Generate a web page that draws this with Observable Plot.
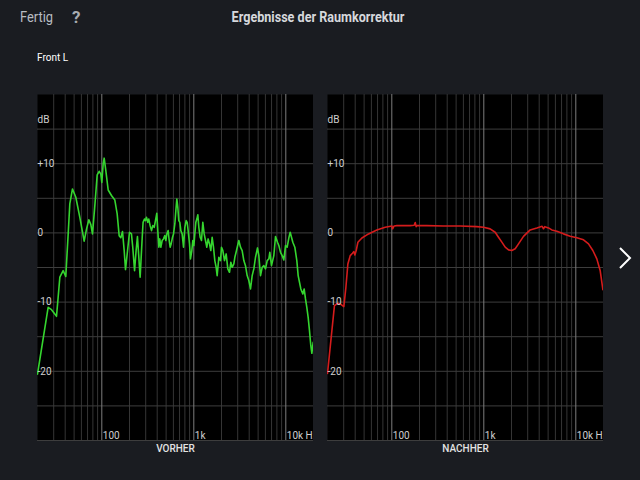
<!DOCTYPE html>
<html>
<head>
<meta charset="utf-8">
<script src="https://cdn.jsdelivr.net/npm/d3@7"></script>
<script src="https://cdn.jsdelivr.net/npm/@observablehq/plot@0.6"></script>
<style>
  html, body { margin: 0; padding: 0; }
  body { width: 640px; height: 480px; background: #1a1c21; position: relative; overflow: hidden; font-family: Roboto, "Noto Sans", sans-serif; }
  .abs { position: absolute; white-space: nowrap; }
  #fertig { left: 20px; top: 9px; font-size: 14px; color: #b9bcc2; transform: scaleX(0.92); transform-origin: left center; }
  #help { left: 72px; top: 7px; font-size: 17px; font-weight: bold; color: #a9acb2; }
  #title { left: 0; width: 640px; top: 9px; text-align: center; font-size: 14px; font-weight: bold; color: #d6d8dc; }
  #title span { display: inline-block; transform: scaleX(0.9); margin-left: -4px; }
  #front { left: 37px; top: 52px; font-size: 10px; color: #ffffff; }
  #left { left: 37px; top: 94px; }
  #right { left: 327px; top: 94px; }
  #next { left: 616px; top: 244px; }
</style>
</head>
<body>
<div class="abs" id="fertig">Fertig</div>
<div class="abs" id="help">?</div>
<div class="abs" id="title"><span>Ergebnisse der Raumkorrektur</span></div>
<div class="abs" id="front">Front L</div>
<div class="abs" id="left"></div>
<div class="abs" id="right"></div>
<svg class="abs" id="next" width="20" height="28"><polyline points="4,4 14,14 4,24" fill="none" stroke="#ffffff" stroke-width="2"/></svg>
<script>
// ---- data ----
const beforeFreq = [20, 26.1, 28.4, 32.2, 35.0, 38.0, 40.6, 43.1, 44.9, 48.0, 52.2, 57.7, 64.3, 68.2, 72.3, 76.0, 79.2, 84.0, 89.1, 93.6, 97.6, 100, 103.5, 106.1, 110.6, 117.3, 127.4, 138.6, 146.9, 154.4, 161.0, 167.9, 175.1, 181,
  200, 210, 217, 227, 236, 244, 261, 275, 281, 291, 298, 306, 316, 324, 335, 347, 358, 371, 383, 396, 406, 417, 427, 438, 453, 468, 484, 497, 509, 526, 540, 553, 567, 587, 602, 622, 638, 654, 670, 687, 705, 723, 747, 773, 799, 826, 847, 868, 898, 920, 952, 976, 1001, 1026, 1052, 1079, 1106, 1134, 1172, 1212, 1253, 1296, 1340, 1385, 1432, 1481, 1531, 1583, 1637, 1692, 1750,
  1794, 1871, 1951, 2000, 2068, 2156, 2248, 2343, 2443, 2526, 2612, 2724, 2793, 2911, 3085, 3217, 3354, 3497, 3646, 3801, 3964, 4133, 4309, 4493, 4685, 4924, 5092, 5309, 5536, 5772, 6018, 6275, 6540, 6703, 6989, 7412, 7729, 8123, 8400, 8758, 9132, 9521, 9927, 10350, 10791, 11152, 11529, 11920, 12536, 13176, 13625, 14088, 14565, 15313, 15831, 16369, 16923, 17497, 18089, 18704, 19190, 19830, 20000];
const beforeDb = [-20.4, -10.75, -11.1, -12.05, -6.4, -5.45, -6.3, -0.15, 4.2, 6.35, 5.15, 2.25, -1.2, 0.55, 1.9, 1.2, -0.15, 3.95, 8.4, 8.9, 8.5, 7.3, 10.0, 10.8, 9.0, 6.2, 5.4, 4.75, 2.75, -0.4, -0.7, 0.2, -2.55, -5.3,
  0.09, -0.15, -2.07, -5.45, -2.55, -0.53, -6.4, -0.63, 1.53, 2.0, 1.77, 2.25, 1.53, 2.0, 1.05, 0.33, 1.05, 0.81, 1.77, 2.83, 0.33, -2.07, -0.87, -2.07, -1.1, -0.87, -0.39, -1.1, -0.15, 0.33, -1.1, -2.07, -1.59, -0.63, -0.15, 1.29, 3.22, 4.9, 3.7, 1.77, 1.53, 0.33, -0.15, -2.07, 0.81, 1.77, 1.53, 0.33, -1.59, -3.76, -2.55, -1.1, -1.83, -0.15, 1.53, 2.0, 2.63, 0.81, -0.63, -1.1, 1.53, -0.15, -1.1, -2.07, -0.87, -1.59, -2.55, -0.63, -2.07, -4.0, -4.97,
  -6.17, -3.52, -4.0, -2.07, -2.55, -4.0, -3.04, -5.2, -5.69, -4.25, -4.97, -4.49, -3.52, -2.55, -1.1, -2.07, -2.55, -4.0, -4.73, -6.17, -6.88, -8.1, -6.17, -5.2, -3.52, -2.17, -3.28, -6.17, -4.97, -4.73, -5.2, -4.0, -3.76, -2.8, -4.73, -3.28, -0.53, -1.35, -1.83, -2.8, -3.28, -3.9, -1.83, -2.07, -0.72, 0.09, -0.63, -1.35, -2.07, -4.0, -6.17, -7.13, -8.1, -8.83, -8.1, -9.54, -10.75, -12.2, -14.13, -16.3, -17.4, -15.8, -16.3];

const afterFreq = [20, 23.8, 25.9, 28.2, 30.1, 31.7, 33.3, 35.3, 37.4, 38.7, 39.7, 41.0, 42.8, 47.3, 55.8, 68.8, 84.7, 100.3, 102, 106, 113.5, 158.5, 175, 179.7, 184, 187.3, 240.5, 364.8, 553.6, 840.3, 992.5, 1172, 1329, 1444, 1571, 1708, 1857, 2017, 2193, 2384, 2700, 3191, 3771, 4300, 4456, 4600, 5049, 5489, 6222, 7350, 8685, 10262, 12126, 13744, 15319, 16925, 18392, 19700, 20000];
const afterDb = [-20.3, -10.5, -10.17, -10.36, -10.65, -7.86, -4.5, -3.28, -2.94, -2.7, -3.19, -2.56, -1.35, -0.73, -0.15, 0.43, 0.82, 1.0, 0.6, 1.0, 1.05, 1.05, 1.1, 1.5, 0.9, 1.05, 1.05, 1.0, 1.0, 0.9, 0.82, 0.58, 0.1, -0.62, -1.34, -2.06, -2.45, -2.54, -2.3, -1.58, -0.5, 0.43, 0.7, 0.95, 0.6, 0.9, 0.72, 0.43, 0.24, -0.14, -0.47, -0.71, -1.0, -1.58, -2.54, -3.75, -5.43, -8.2, -7.6];

const gridDb = [-30, -25, -20, -15, -10, -5, 0, 5, 10, 15];
const minorFreq = [30, 40, 50, 60, 70, 80, 90, 200, 300, 400, 500, 600, 700, 800, 900, 2000, 3000, 4000, 5000, 6000, 7000, 8000, 9000];
const majorFreq = [100, 1000, 10000];
const dbTickValues = [10, 0, -10, -20];
const dbTickLabels = ["+10", "0", "-10", "-20"];
const freqTickValues = [100, 1000, 10000];
const freqTickLabels = ["100", "1k", "10k Hz"];
const unitLabel = "dB";
const panelLabels = ["VORHER", "NACHHER"];

function panel(freqs, dbs, color, name) {
  const curve = freqs.map((f, i) => ({f, db: dbs[i]}));
  const yTicks = dbTickValues.map((v, i) => ({v, label: dbTickLabels[i]}));
  const xTicks = freqTickValues.map((v, i) => ({v, label: freqTickLabels[i]}));
  return Plot.plot({
    width: 276, height: 366,
    marginTop: 0, marginRight: 0, marginBottom: 20, marginLeft: 0,
    style: {background: "transparent", overflow: "hidden", fontFamily: "Roboto, sans-serif"},
    x: {type: "log", domain: [20, 20000], axis: null},
    y: {domain: [-30, 20], axis: null},
    marks: [
      Plot.frame({fill: "#000000"}),
      Plot.ruleX(minorFreq, {stroke: "#353535", strokeWidth: 1}),
      Plot.ruleY(gridDb, {stroke: "#3d3d3d", strokeWidth: 1}),
      Plot.ruleX(majorFreq, {stroke: "#7c7c7c", strokeWidth: 1}),
      Plot.line(curve, {x: "f", y: "db", stroke: color, strokeWidth: 1.6, clip: true}),
      Plot.text(yTicks, {x: 20, y: "v", text: "label", textAnchor: "start", fill: "#cfcfcf", fontSize: 10}),
      Plot.text([unitLabel], {frameAnchor: "top-left", text: d => d, dy: 21, textAnchor: "start", fill: "#cfcfcf", fontSize: 10}),
      Plot.text(xTicks, {x: "v", y: -30, text: "label", textAnchor: "start", dx: 1, dy: -5, fill: "#cfcfcf", fontSize: 10, clip: true}),
      Plot.text([name], {frameAnchor: "bottom", text: d => d, dy: 8, lineAnchor: "middle", fill: "#e2e2e2", fontSize: 10, fontWeight: 500})
    ]
  });
}

document.getElementById("left").appendChild(panel(beforeFreq, beforeDb, "#35d52f", panelLabels[0]));
document.getElementById("right").appendChild(panel(afterFreq, afterDb, "#d41c1c", panelLabels[1]));
</script>
</body>
</html>
